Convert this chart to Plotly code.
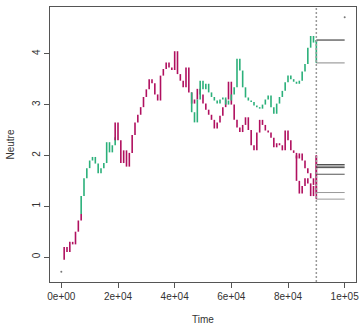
import plotly.graph_objects as go

# ---- data (time in years, trait value "Neutre") ----
# magenta lineage, early part
mag_a_time = [0, 1000, 2000, 3000, 4000, 5000, 6000, 7000]
mag_a_val = [-0.05, 0.2, 0.1, 0.3, 0.25, 0.5, 0.72, 0.85]

# green lineage, early part
grn_b_time = [6000, 7000, 8000, 9000, 10000, 11000, 12000, 13000, 14000, 15000,
              16000, 17000, 18000, 19000]
grn_b_val = [0.85, 1.2, 1.55, 1.75, 1.9, 1.97, 1.84, 1.65, 1.75, 1.85,
             2.26, 2.06, 2.2, 2.36]

# magenta main lineage
mag_c_time = list(range(18000, 91000, 1000)) + [90000]
mag_c_val = [2.3, 2.65, 2.3, 1.85, 2.1, 1.78, 2.05, 2.4, 2.65, 2.8,
             2.95, 3.15, 3.3, 3.5, 3.42, 3.2, 3.08, 3.57, 3.7, 3.83,
             3.73, 3.68, 4.05, 3.6, 3.47, 3.34, 3.73, 3.24, 3.02, 3.1,
             3.31, 3.2, 3.02, 2.9, 2.8, 2.7, 2.53, 2.65, 2.78, 2.95,
             3.1, 3.45, 3.0, 2.7, 2.55, 2.46, 2.6, 2.75, 2.5, 2.2,
             2.1, 2.45, 2.7, 2.6, 2.49, 2.45, 2.35, 2.16, 2.24, 2.2,
             2.1, 2.49, 2.3, 2.1, 2.05, 1.94, 2.04, 1.9, 1.75, 1.65,
             1.55, 1.42, 2.0, 1.14]

# magenta side branch near the end
mag_d_time = [82000, 83000, 84000, 85000, 86000, 87000, 88000, 89000, 90000]
mag_d_val = [2.0, 1.5, 1.25, 1.4, 1.55, 1.45, 1.2, 1.4, 1.27]

# green upper lineage
grn_e_time = list(range(45000, 91000, 1000)) + [90000]
grn_e_val = [3.24, 2.85, 2.65, 3.1, 3.47, 3.3, 3.41, 3.24, 3.15, 3.08,
             3.02, 3.1, 3.14, 3.0, 3.08, 3.2, 3.34, 3.9, 3.67, 3.34,
             3.14, 3.08, 3.05, 2.98, 2.95, 2.92, 3.0, 3.1, 3.18, 2.95,
             2.82, 3.02, 3.15, 3.27, 3.44, 3.57, 3.5, 3.45, 3.41, 3.47,
             3.65, 3.8, 4.12, 4.35, 4.22, 4.27, 3.82]

# tip values drawn as horizontal lines after the present
tip_values = [4.27, 3.82, 1.82, 1.79, 1.76, 1.63, 1.27, 1.14]
tip_colors = ["#222222", "#8a8a8a", "#444444", "#555555", "#444444",
              "#555555", "#999999", "#999999"]
tip_start = 90000
tip_end = 100000
present_time = 90000

# range points
extra_time = [0, 100000]
extra_val = [-0.29, 4.72]

x_ticks = [0, 20000, 40000, 60000, 80000, 100000]
x_ticktext = ["0e+00", "2e+04", "4e+04", "6e+04", "8e+04", "1e+05"]
y_ticks = [0, 1, 2, 3, 4]

MAGENTA = "#b0105f"
GREEN = "#2bb07a"


def dashes(times, vals):
    xs, ys = [], []
    for i in range(1, len(times)):
        xs += [times[i], times[i], None]
        ys += [vals[i - 1], vals[i], None]
    return xs, ys


fig = go.Figure()

for tt, vv, col in [(mag_a_time, mag_a_val, MAGENTA),
                    (grn_b_time, grn_b_val, GREEN),
                    (mag_c_time, mag_c_val, MAGENTA),
                    (mag_d_time, mag_d_val, MAGENTA),
                    (grn_e_time, grn_e_val, GREEN)]:
    xs, ys = dashes(tt, vv)
    fig.add_trace(go.Scatter(x=xs, y=ys, mode="lines",
                             line=dict(color=col, width=1.6),
                             hoverinfo="skip", showlegend=False))

for v, c in zip(tip_values, tip_colors):
    fig.add_trace(go.Scatter(x=[tip_start, tip_end], y=[v, v], mode="lines",
                             line=dict(color=c, width=1),
                             hoverinfo="skip", showlegend=False))

fig.add_trace(go.Scatter(x=extra_time, y=extra_val, mode="markers",
                         marker=dict(color="#777777", size=2),
                         hoverinfo="skip", showlegend=False))

fig.add_shape(type="line", xref="x", yref="paper", x0=present_time,
              x1=present_time, y0=0, y1=1,
              line=dict(color="#999999", width=1.5, dash="2px,2px"))

font = dict(family="Liberation Sans, Arial, sans-serif", size=10, color="#333333")

fig.update_layout(
    width=363, height=325,
    margin=dict(l=50, r=4, t=7, b=43),
    paper_bgcolor="white", plot_bgcolor="white",
    font=font,
    xaxis=dict(range=[-4000, 104000], tickvals=x_ticks, ticktext=x_ticktext,
               ticks="outside", ticklen=5, tickcolor="#555555",
               showline=True, mirror=True, linecolor="#555555", linewidth=1,
               showgrid=False, zeroline=False, tickfont=font),
    yaxis=dict(range=[-0.49, 4.92], tickvals=y_ticks, tickangle=-90,
               ticks="outside", ticklen=5, tickcolor="#555555",
               showline=True, mirror=True, linecolor="#555555", linewidth=1,
               showgrid=False, zeroline=False, tickfont=font),
    annotations=[
        dict(text="Time", xref="paper", yref="paper", x=0.5, y=0,
             xanchor="center", yanchor="middle", yshift=-37,
             showarrow=False, font=font),
        dict(text="Neutre", xref="paper", yref="paper", x=0, y=0.5,
             xanchor="center", yanchor="middle", xshift=-40, textangle=-90,
             showarrow=False, font=font),
    ],
)

fig.write_html("out.html")
